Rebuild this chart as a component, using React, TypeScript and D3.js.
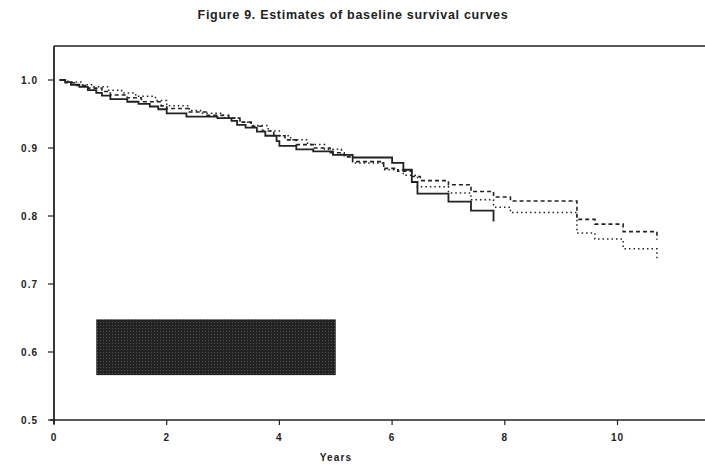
import React from "react";
import * as d3 from "d3";

const yTicks = [0.5, 0.6, 0.7, 0.8, 0.9, 1.0];
const xTicks = [0, 2, 4, 6, 8, 10];

// [year, survival] step points
const solidSeries: [number, number][] = [
  [0.1, 1.0], [0.2, 0.997], [0.3, 0.993], [0.45, 0.99], [0.6, 0.985], [0.75, 0.981], [0.85, 0.977],
  [1.0, 0.972], [1.3, 0.968], [1.5, 0.965], [1.7, 0.961], [1.85, 0.957], [2.0, 0.951], [2.35, 0.946],
  [2.9, 0.944], [3.15, 0.94], [3.25, 0.934], [3.4, 0.93], [3.6, 0.924], [3.75, 0.918], [3.95, 0.91],
  [4.0, 0.903], [4.3, 0.898], [4.6, 0.895], [4.95, 0.89], [5.3, 0.886], [6.0, 0.878], [6.2, 0.868],
  [6.35, 0.85], [6.45, 0.833], [7.0, 0.821], [7.4, 0.808], [7.8, 0.792],
];
const solidEnd = 7.8;

const dashedSeries: [number, number][] = [
  [0.1, 1.0], [0.2, 0.996], [0.4, 0.992], [0.6, 0.988], [0.85, 0.983], [1.0, 0.978], [1.3, 0.974],
  [1.55, 0.968], [1.9, 0.962], [2.0, 0.958], [2.4, 0.953], [2.7, 0.948], [3.1, 0.944], [3.3, 0.938],
  [3.5, 0.932], [3.7, 0.925], [3.9, 0.918], [4.1, 0.912], [4.3, 0.905], [4.6, 0.9], [4.9, 0.893],
  [5.15, 0.887], [5.3, 0.88], [5.85, 0.87], [6.1, 0.866], [6.35, 0.858], [6.5, 0.852], [7.0, 0.846],
  [7.4, 0.836], [7.8, 0.828], [8.1, 0.822], [9.28, 0.795], [9.6, 0.788], [10.1, 0.777], [10.7, 0.765],
];
const dashedEnd = 10.7;

const dottedSeries: [number, number][] = [
  [0.1, 1.0], [0.25, 0.997], [0.5, 0.993], [0.7, 0.99], [0.95, 0.985], [1.2, 0.981], [1.45, 0.976],
  [1.8, 0.97], [2.0, 0.962], [2.4, 0.955], [2.6, 0.951], [3.0, 0.944], [3.3, 0.938], [3.5, 0.933],
  [3.8, 0.925], [4.0, 0.918], [4.2, 0.912], [4.5, 0.905], [4.8, 0.898], [5.1, 0.89], [5.3, 0.878],
  [5.85, 0.868], [6.2, 0.86], [6.45, 0.843], [7.0, 0.834], [7.4, 0.824], [7.8, 0.813], [8.1, 0.805],
  [9.28, 0.775], [9.6, 0.766], [10.1, 0.752], [10.7, 0.738],
];
const dottedEnd = 10.7;

// obscured legend box (years, survival)
const legendBox = { x0: 0.75, x1: 5.0, y0: 0.566, y1: 0.648 };

const W = 705;
const H = 466;
const left = 54;
const top = 46;
const bottom = 420;

export default function App() {
  const x = d3.scaleLinear().domain([0, 12]).range([left, left + 12 * 56.35]);
  const y = d3.scaleLinear().domain([0.5, 1.05]).range([bottom, top]);

  const stepLine = (pts: [number, number][], end: number) => {
    const data = [...pts];
    const last = data[data.length - 1];
    if (end > last[0]) data.push([end, last[1]]);
    return d3
      .line<[number, number]>()
      .x((d) => x(d[0]))
      .y((d) => y(d[1]))
      .curve(d3.curveStepAfter)(data) as string;
  };

  const font = "'Liberation Sans', Arial, sans-serif";

  return (
    <svg width={W} height={H} style={{ position: "absolute", left: 0, top: 0, background: "#fff" }}>
      <defs>
        <pattern id="hatch" width="3" height="3" patternUnits="userSpaceOnUse">
          <rect width="3" height="3" fill="#222" />
          <rect x="1" y="1" width="1" height="1" fill="#555" />
        </pattern>
      </defs>
      <text
        x={353}
        y={19}
        textAnchor="middle"
        fontFamily={font}
        fontWeight="bold"
        fontSize={12.5}
        letterSpacing={0.7}
        fill="#222"
      >
        Figure 9. Estimates of baseline survival curves
      </text>

      {/* frame */}
      <line x1={left} x2={W + 10} y1={top} y2={top} stroke="#222" strokeWidth={1.5} />
      <line x1={left} x2={left} y1={top} y2={bottom + 4} stroke="#222" strokeWidth={1.8} />
      <line x1={left - 4} x2={W + 10} y1={bottom} y2={bottom} stroke="#222" strokeWidth={1.5} />

      {/* y axis */}
      {yTicks.map((t) => (
        <g key={"y" + t}>
          <line x1={left - 6} x2={left} y1={y(t)} y2={y(t)} stroke="#222" strokeWidth={1.2} />
          <text
            x={left - 16}
            y={y(t) + 4}
            textAnchor="end"
            fontFamily={font}
            fontWeight="bold"
            fontSize={10}
            letterSpacing={1}
            fill="#222"
          >
            {d3.format(".1f")(t)}
          </text>
        </g>
      ))}

      {/* x axis */}
      {xTicks.map((t) => (
        <g key={"x" + t}>
          <line x1={x(t)} x2={x(t)} y1={bottom} y2={bottom + 5} stroke="#222" strokeWidth={1.2} />
          <text
            x={x(t)}
            y={bottom + 21}
            textAnchor="middle"
            fontFamily={font}
            fontWeight="bold"
            fontSize={10}
            letterSpacing={1}
            fill="#222"
          >
            {t}
          </text>
        </g>
      ))}
      <text
        x={336}
        y={461}
        textAnchor="middle"
        fontFamily={font}
        fontWeight="bold"
        fontSize={10}
        letterSpacing={1.2}
        fill="#222"
      >
        Years
      </text>

      {/* curves */}
      <path d={stepLine(dottedSeries, dottedEnd)} fill="none" stroke="#222" strokeWidth={1.5} strokeDasharray="1.5,3" />
      <path d={stepLine(dashedSeries, dashedEnd)} fill="none" stroke="#222" strokeWidth={1.6} strokeDasharray="4,3" />
      <path d={stepLine(solidSeries, solidEnd)} fill="none" stroke="#222" strokeWidth={1.8} />

      {/* legend box (obscured) */}
      <rect
        x={x(legendBox.x0)}
        y={y(legendBox.y1)}
        width={x(legendBox.x1) - x(legendBox.x0)}
        height={y(legendBox.y0) - y(legendBox.y1)}
        fill="url(#hatch)"
      />
    </svg>
  );
}
